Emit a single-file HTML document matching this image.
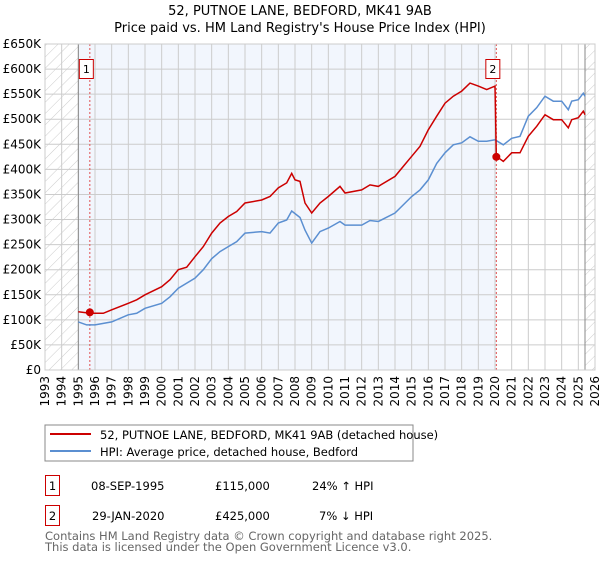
<!DOCTYPE html>
<html><head><meta charset="utf-8"><style>
body{margin:0;background:#fff;width:600px;height:560px;overflow:hidden;font-family:"DejaVu Sans","Liberation Sans",sans-serif}
svg text{font-family:"DejaVu Sans","Liberation Sans",sans-serif}
</style></head><body>
<svg id="c" width="600" height="560">
<defs><pattern id="hatch" width="8" height="8" patternUnits="userSpaceOnUse" patternTransform="rotate(45)"><line x1="0" y1="0" x2="0" y2="8" stroke="#ccc" stroke-width="1"/></pattern></defs>
<text x="300" y="15" text-anchor="middle" font-size="13" fill="#000">52, PUTNOE LANE, BEDFORD, MK41 9AB</text>
<text x="300" y="32" text-anchor="middle" font-size="13" fill="#000">Price paid vs. HM Land Registry's House Price Index (HPI)</text>
<g id="plot"></g>
<rect x="45" y="425" width="368" height="36" fill="#fff" stroke="#888"/>
<line x1="50" y1="434" x2="91" y2="434" stroke="#cc0000" stroke-width="2"/>
<text x="100" y="439" font-size="11.5">52, PUTNOE LANE, BEDFORD, MK41 9AB (detached house)</text>
<line x1="50" y1="451" x2="91" y2="451" stroke="#5b8fd1" stroke-width="2"/>
<text x="100" y="456" font-size="11.5">HPI: Average price, detached house, Bedford</text>
<g font-size="11.5">
<rect x="45.5" y="475.5" width="14" height="20" fill="#fff" stroke="#cc0000"/>
<text x="52.5" y="490" text-anchor="middle">1</text>
<text x="91" y="490">08-SEP-1995</text>
<text x="215" y="490">£115,000</text>
<text x="312" y="490">24% ↑ HPI</text>
</g>
<g font-size="11.5">
<rect x="45.5" y="505.5" width="14" height="20" fill="#fff" stroke="#cc0000"/>
<text x="52.5" y="520" text-anchor="middle">2</text>
<text x="92" y="520">29-JAN-2020</text>
<text x="215" y="520">£425,000</text>
<text x="319" y="520">7% ↓ HPI</text>
</g>
<text x="45" y="540" font-size="11.5" fill="#666">Contains HM Land Registry data © Crown copyright and database right 2025.</text>
<text x="45" y="551" font-size="11.5" fill="#666">This data is licensed under the Open Government Licence v3.0.</text>
</svg>
<script>
const yTicks=[0,50,100,150,200,250,300,350,400,450,500,550,600,650];
const yTickLabels=["£0","£50K","£100K","£150K","£200K","£250K","£300K","£350K","£400K","£450K","£500K","£550K","£600K","£650K"];
const xYears=[1993,1994,1995,1996,1997,1998,1999,2000,2001,2002,2003,2004,2005,2006,2007,2008,2009,2010,2011,2012,2013,2014,2015,2016,2017,2018,2019,2020,2021,2022,2023,2024,2025,2026];
const redT=[1995.0,1995.7,1996.5,1997,1998,1998.5,1999,2000,2000.5,2001,2001.5,2002,2002.5,2003,2003.5,2004,2004.5,2005,2006,2006.5,2007,2007.5,2007.8,2008,2008.3,2008.6,2009,2009.5,2010,2010.7,2011,2012,2012.5,2013,2014,2014.5,2015,2015.5,2016,2016.5,2017,2017.5,2018,2018.5,2019,2019.5,2020.0,2020.08,2020.5,2021,2021.5,2022,2022.5,2023,2023.5,2024,2024.4,2024.6,2025,2025.3,2025.4];
const redV=[116,113,113,120,133,140,150,166,180,200,205,226,246,273,293,306,316,333,339,346,363,373,392,379,376,333,313,333,346,366,353,359,369,366,386,406,426,446,479,506,532,546,556,572,566,559,566,426,416,433,433,466,486,509,499,499,483,499,503,516,509];
const blueT=[1995.0,1995.5,1996,1997,1998,1998.5,1999,2000,2000.5,2001,2002,2002.5,2003,2003.5,2004,2004.5,2005,2006,2006.5,2007,2007.5,2007.8,2008.3,2008.6,2009,2009.5,2010,2010.7,2011,2012,2012.5,2013,2014,2015,2015.5,2016,2016.5,2017,2017.5,2018,2018.5,2019,2019.5,2020,2020.5,2021,2021.5,2022,2022.5,2023,2023.5,2024,2024.4,2024.6,2025,2025.3,2025.4];
const blueV=[96,90,90,96,110,113,123,133,146,163,183,200,222,236,246,256,273,276,273,293,299,317,304,279,253,276,283,296,289,289,298,296,313,346,359,379,412,433,449,453,465,456,456,459,449,462,466,506,523,546,536,536,519,536,539,552,546];
const saleT=[1995.69,2020.08];
const saleV=[115,425];
const saleLabels=["1","2"];
const X0=45,X1=595,Y0=370,Y1=44;
const xs=t=>X0+(t-1993)/(2026-1993)*(X1-X0);
const ys=v=>Y0-v/650*(Y0-Y1);
const NS="http://www.w3.org/2000/svg";
const g=document.getElementById('plot');
function mk(tag,at,parent){const e=document.createElementNS(NS,tag);for(const k in at)e.setAttribute(k,at[k]);(parent||g).appendChild(e);return e;}
let e;
e=mk('rect',{x:X0,y:Y1,width:X1-X0,height:Y0-Y1,fill:'#fff'});
e=mk('rect',{x:xs(1995),y:Y1,width:xs(2020.08)-xs(1995),height:Y0-Y1,fill:'#f2f6fd'});


e=mk('rect',{x:X0,y:Y1,width:xs(1995)-X0,height:Y0-Y1,fill:'url(#hatch)'});


e=mk('rect',{x:xs(2025.4),y:Y1,width:X1-xs(2025.4),height:Y0-Y1,fill:'url(#hatch)'});


yTicks.forEach((v,i)=>{
 mk('line',{x1:X0,x2:X1,y1:ys(v),y2:ys(v),stroke:'#ccc','stroke-width':1});
 const t=mk('text',{x:41,y:ys(v)+4,'text-anchor':'end','font-size':12});
 t.textContent=yTickLabels[i];
 
 
});
xYears.forEach(y=>{
 mk('line',{x1:xs(y),x2:xs(y),y1:Y1,y2:Y0,stroke:'#ccc','stroke-width':1});
 const t=mk('text',{x:0,y:0,'text-anchor':'end','font-size':12,transform:`translate(${xs(y)+4},376) rotate(-90)`});
 t.textContent=y;
 
 
});
mk('line',{x1:xs(1995),x2:xs(1995),y1:Y1,y2:Y0,stroke:'#888'});
mk('line',{x1:xs(2025.4),x2:xs(2025.4),y1:Y1,y2:Y0,stroke:'#888'});
saleT.forEach(t=>mk('line',{x1:xs(t),x2:xs(t),y1:Y1,y2:Y0,stroke:'#e05050','stroke-dasharray':'2,2','stroke-width':1}));
function path(T,V){return T.map((t,i)=>(i?'L':'M')+xs(t).toFixed(1)+','+ys(V[i]).toFixed(1)).join('');}
e=mk('path',{d:path(blueT,blueV),fill:'none',stroke:'#5b8fd1','stroke-width':1.5});


e=mk('path',{d:path(redT,redV),fill:'none',stroke:'#cc0000','stroke-width':1.5});


saleT.forEach((t,i)=>{
 const c=mk('circle',{cx:xs(t),cy:ys(saleV[i]),r:4,fill:'#cc0000'});
 
 
 const b=mk('rect',{x:xs(t)-10.5,y:59.5,width:14,height:19,fill:'#fff',stroke:'#cc0000'});
 
 
 const tx=mk('text',{x:xs(t)-3.5,y:73,'text-anchor':'middle','font-size':11});
 tx.textContent=saleLabels[i];
 
 
});
mk('rect',{x:X0,y:Y1,width:X1-X0,height:Y0-Y1,fill:'none',stroke:'#ccc'});
</script>
</body></html>
